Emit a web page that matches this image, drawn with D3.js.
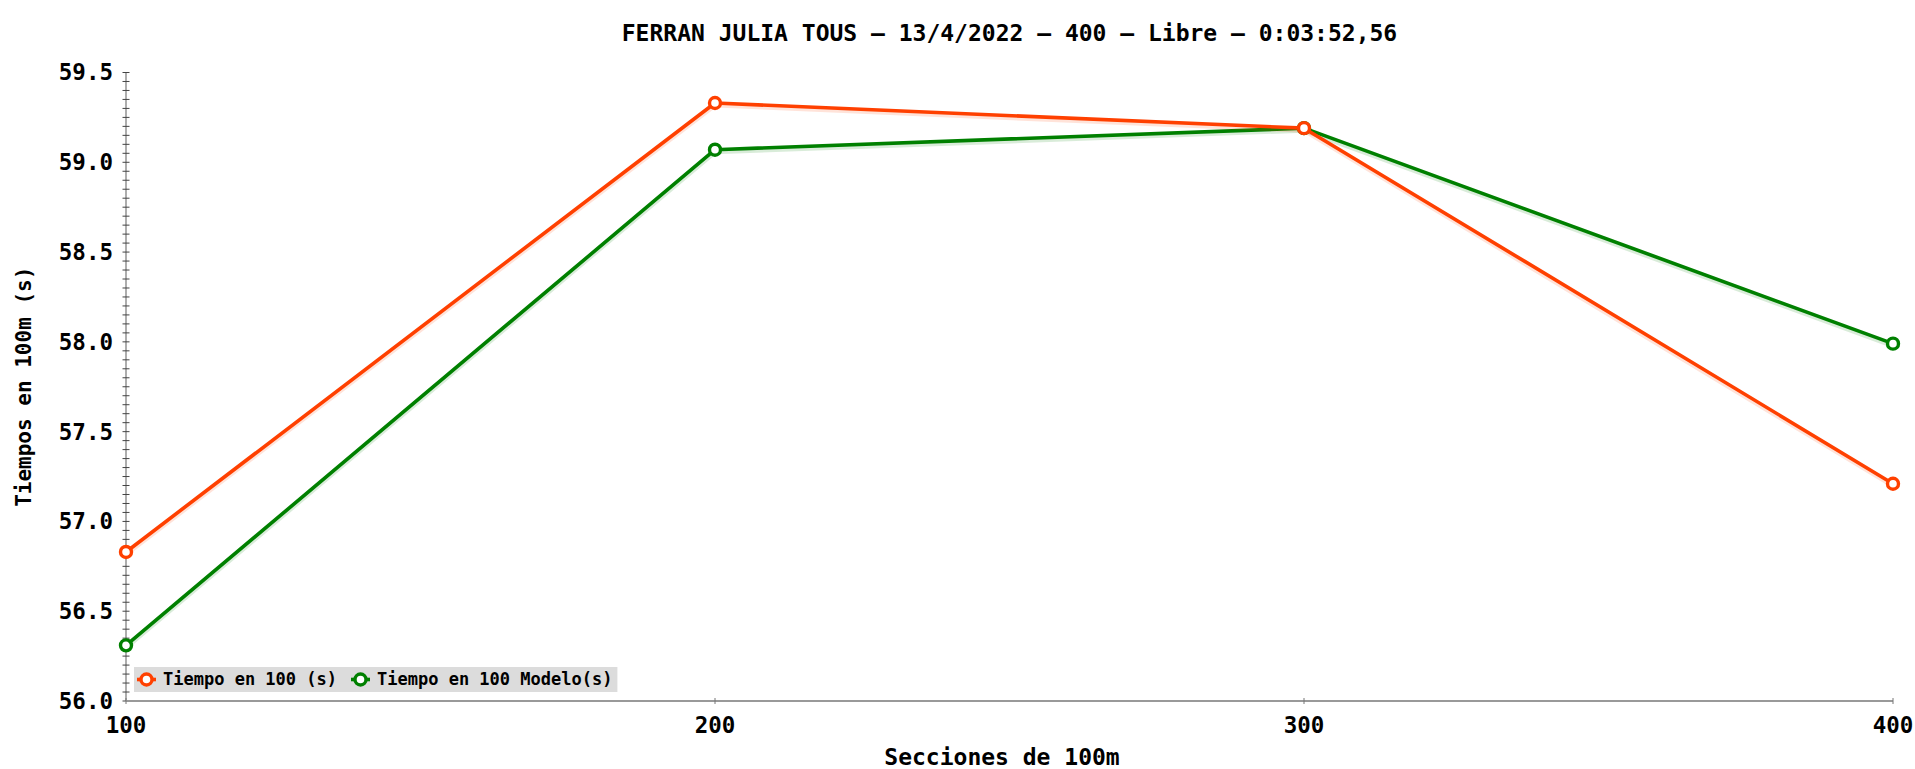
<!DOCTYPE html>
<html>
<head>
<meta charset="utf-8">
<script src="https://cdn.jsdelivr.net/npm/d3@7"></script>
<style>
  html, body { margin: 0; padding: 0; background: #fff; }
  svg text { font-family: "DejaVu Sans Mono", monospace; font-weight: bold; fill: #000; }
</style>
</head>
<body>
<div id="chart"></div>
<script>
const W = 1915, H = 769;
const M = { top: 72.5, right: 22, bottom: 68, left: 126 };

const TITLE = 'FERRAN JULIA TOUS – 13/4/2022 – 400 – Libre – 0:03:52,56';
const secciones = [100, 200, 300, 400];
const tiempo = [56.83, 59.33, 59.19, 57.21];
const modelo = [56.31, 59.07, 59.19, 57.99];
const yTicks = [56.0, 56.5, 57.0, 57.5, 58.0, 58.5, 59.0, 59.5];

const SERIES = [
  { name: 'Tiempo en 100 (s)', values: tiempo, color: '#ff4000' },
  { name: 'Tiempo en 100 Modelo(s)', values: modelo, color: '#008000' },
];

const svg = d3.select('#chart').append('svg').attr('width', W).attr('height', H);
const innerW = W - M.left - M.right, innerH = H - M.top - M.bottom;
const g = svg.append('g').attr('transform', `translate(${M.left},${M.top})`);

const x = d3.scaleLinear().domain([100, 400]).range([0, innerW]);
const y = d3.scaleLinear().domain([56, 59.5]).range([innerH, 0]);

// title
svg.append('text').attr('x', M.left + innerW / 2).attr('y', 41)
  .attr('text-anchor', 'middle').style('font-size', '23px').text(TITLE);

// y axis with minor ticks every 0.05
const minor = d3.range(0, 71).map(i => 56 + i * 0.05);
const yAxis = g.append('g');
yAxis.append('line').attr('x1', 0).attr('x2', 0).attr('y1', 0).attr('y2', innerH)
  .attr('stroke', '#777').attr('stroke-width', 1.2);
yAxis.selectAll('line.minor').data(minor).join('line').attr('class', 'minor')
  .attr('x1', -3.5).attr('x2', 3.5)
  .attr('y1', d => y(d)).attr('y2', d => y(d))
  .attr('stroke', '#444').attr('stroke-width', 1);
yAxis.selectAll('text').data(yTicks).join('text')
  .attr('x', -13).attr('y', d => y(d)).attr('dy', '0.35em')
  .attr('text-anchor', 'end').style('font-size', '22.5px')
  .text(d => d3.format('.1f')(d));

// x axis
const xAxis = g.append('g').attr('transform', `translate(0,${innerH})`);
xAxis.append('line').attr('x1', 0).attr('x2', innerW)
  .attr('stroke', '#999').attr('stroke-width', 2);
xAxis.selectAll('line.tick').data(secciones).join('line').attr('class', 'tick')
  .attr('x1', d => x(d)).attr('x2', d => x(d)).attr('y1', -3).attr('y2', 3)
  .attr('stroke', '#777').attr('stroke-width', 1);
xAxis.selectAll('text').data(secciones).join('text')
  .attr('x', d => x(d)).attr('y', 32).attr('text-anchor', 'middle')
  .style('font-size', '22.5px').text(d => d);

// axis labels
svg.append('text').attr('x', 1002).attr('y', 765)
  .attr('text-anchor', 'middle').style('font-size', '23px').text('Secciones de 100m');
svg.append('text').attr('transform', `translate(31,${M.top + innerH / 2}) rotate(-90)`)
  .attr('text-anchor', 'middle').style('font-size', '21px').text('Tiempos en 100m (s)');

// lines
const line = d3.line().x((_, i) => x(secciones[i])).y(d => y(d));
[...SERIES].reverse().forEach(s => {
  g.append('path').attr('d', line(s.values)).attr('fill', 'none')
    .attr('stroke', s.color).attr('stroke-opacity', 0.15).attr('stroke-width', 5)
    .attr('transform', 'translate(0,2)');
  g.append('path').attr('d', line(s.values)).attr('fill', 'none')
    .attr('stroke', s.color).attr('stroke-width', 3.6).attr('stroke-linejoin', 'round');
  g.selectAll(null).data(s.values).join('circle')
    .attr('cx', (_, i) => x(secciones[i])).attr('cy', d => y(d)).attr('r', 5.5)
    .attr('fill', '#fff').attr('stroke', s.color).attr('stroke-width', 3.4);
});

// legend
const leg = svg.append('g').attr('transform', 'translate(134,667)');
const legBg = leg.append('rect').attr('height', 25).attr('fill', '#dcdcdc');
let cx = 0;
SERIES.forEach(s => {
  const item = leg.append('g').attr('transform', `translate(${cx},0)`);
  item.append('line').attr('x1', 3).attr('x2', 22).attr('y1', 12.5).attr('y2', 12.5)
    .attr('stroke', s.color).attr('stroke-width', 3.6);
  item.append('circle').attr('cx', 12.5).attr('cy', 12.5).attr('r', 5.5)
    .attr('fill', '#fff').attr('stroke', s.color).attr('stroke-width', 3.4);
  const t = item.append('text').attr('x', 29).attr('y', 12.5).attr('dy', '0.35em')
    .style('font-size', '17px').text(s.name);
  cx += 29 + t.node().getComputedTextLength() + 11;
});
legBg.attr('width', cx - 6);
</script>
</body>
</html>
